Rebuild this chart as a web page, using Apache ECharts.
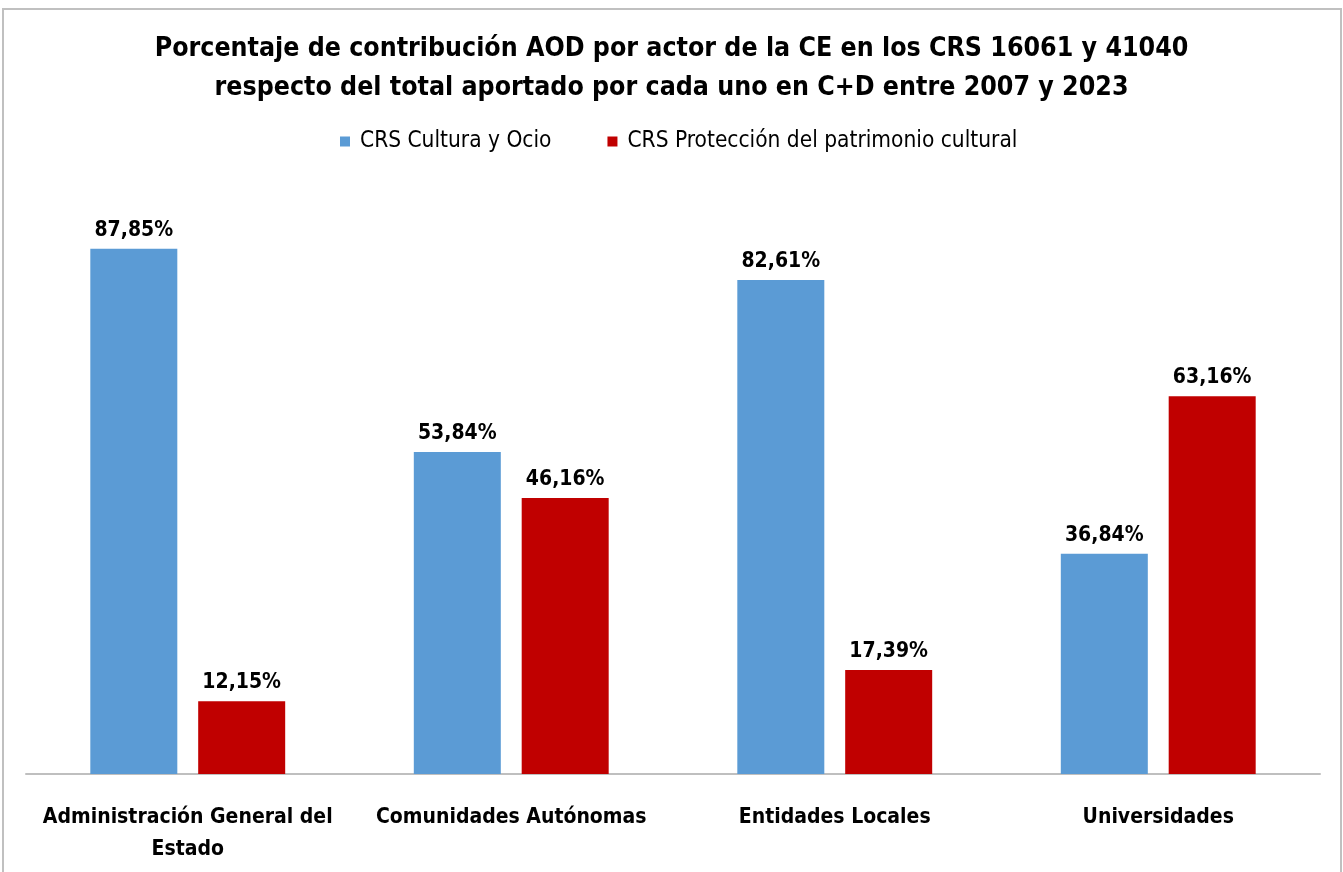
<!DOCTYPE html>
<html>
<head>
<meta charset="utf-8">
<script src="https://cdn.jsdelivr.net/npm/echarts@6/dist/echarts.min.js"></script>
<style>
  html, body { margin: 0; padding: 0; background: #fff; }
  #chart { width: 1343px; height: 872px; }
</style>
</head>
<body>
<div id="chart"></div>
<script>
// data
const categories = [
  "Administración General del\nEstado",
  "Comunidades Autónomas",
  "Entidades Locales",
  "Universidades"
];
const culturaOcio = [87.85, 53.84, 82.61, 36.84];
const patrimonio = [12.15, 46.16, 17.39, 63.16];
const seriesNames = ["CRS Cultura y Ocio", "CRS Protección del patrimonio cultural"];

const FONT = "'Liberation Sans Narrow', 'DejaVu Sans Condensed', 'Open Sans', sans-serif";

function pct(p) {
  return p.value.toFixed(2).replace(".", ",") + "%";
}

const chart = echarts.init(document.getElementById("chart"));

const labelStyle = {
  show: true,
  position: "top",
  distance: 8,
  formatter: pct,
  color: "#000",
  fontFamily: FONT,
  fontWeight: "bold",
  fontSize: 21
};

chart.setOption({
  backgroundColor: "#fff",
  animation: false,
  title: {
    text: "Porcentaje de contribución AOD por actor de la CE en los CRS 16061 y 41040\nrespecto del total aportado por cada uno en C+D entre 2007 y 2023",
    left: "center",
    top: 25,
    textStyle: {
      fontFamily: FONT,
      fontWeight: "bold",
      fontSize: 26.5,
      lineHeight: 39,
      color: "#000"
    }
  },
  legend: {
    top: 125,
    left: 335,
    itemWidth: 10,
    itemHeight: 10,
    itemGap: 56,
    icon: "rect",
    textStyle: { fontFamily: FONT, fontSize: 22.5, color: "#000", padding: [0, 0, 0, 5] }
  },
  graphic: [{
    type: "rect",
    shape: { x: 3, y: 9, width: 1338, height: 900 },
    style: { fill: "none", stroke: "#c0c0c0", lineWidth: 2 },
    silent: true
  }],
  grid: { left: 26, right: 23, top: 176, bottom: 98 },
  xAxis: {
    type: "category",
    data: categories,
    axisLine: { lineStyle: { color: "#bfbfbf", width: 2 } },
    axisTick: { show: false },
    axisLabel: {
      margin: 28,
      interval: 0,
      color: "#000",
      fontFamily: FONT,
      fontWeight: "bold",
      fontSize: 21,
      lineHeight: 32
    }
  },
  yAxis: {
    type: "value",
    min: 0,
    max: 100,
    show: false,
    splitLine: { show: false }
  },
  series: [
    {
      name: seriesNames[0],
      type: "bar",
      data: culturaOcio,
      barWidth: 87,
      barGap: "24%",
      itemStyle: { color: "#5B9BD5" },
      label: labelStyle
    },
    {
      name: seriesNames[1],
      type: "bar",
      data: patrimonio,
      barWidth: 87,
      barGap: "24%",
      itemStyle: { color: "#C00000" },
      label: labelStyle
    }
  ]
});

window.addEventListener("resize", () => chart.resize());
</script>
</body>
</html>
